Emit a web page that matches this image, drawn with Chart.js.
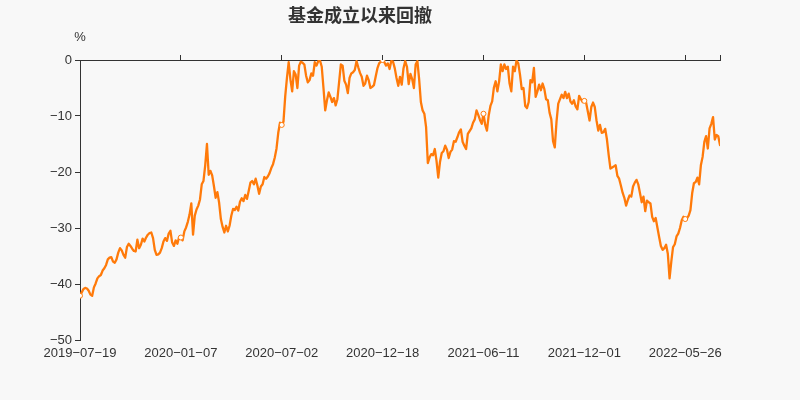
<!DOCTYPE html>
<html><head><meta charset="utf-8">
<script src="https://cdn.jsdelivr.net/npm/chart.js@4"></script>
<style>html,body{margin:0;padding:0;background:#f8f8f8}canvas{display:block}</style>
</head><body><canvas id="c" width="800" height="400"></canvas>
<script>
const chartTitle = '基金成立以来回撤';
const unitLabel = '%';
const tickDates = ['2019-07-19','2020-01-07','2020-07-02','2020-12-18','2021-06-11','2021-12-01','2022-05-26'];
const tickIndex = [0,58,116,174,232,290,348];
const yTicks = [0,-10,-20,-30,-40,-50];
const drawdown = [
-42.1,-41.5,-40.9,-40.7,-40.8,-41.2,-41.9,-42.1,-40.6,-39.9,
-39.0,-38.6,-38.4,-37.6,-37.2,-36.6,-35.6,-35.3,-35.2,-36.0,
-36.2,-35.6,-34.4,-33.6,-34.0,-34.8,-35.3,-33.4,-32.8,-33.2,
-33.7,-34.1,-34.2,-32.1,-33.6,-33.0,-31.9,-32.4,-31.7,-31.2,
-30.9,-30.8,-31.8,-33.9,-34.8,-34.7,-34.4,-33.6,-32.4,-31.8,
-32.3,-31.0,-30.5,-32.6,-33.2,-32.2,-32.8,-31.6,-31.7,-32.2,
-30.6,-29.9,-28.9,-27.6,-25.6,-31.2,-27.8,-26.7,-26.0,-24.9,
-22.2,-21.6,-18.8,-15.0,-20.5,-19.8,-20.6,-22.5,-24.6,-23.6,
-25.5,-28.4,-29.8,-30.8,-29.6,-30.6,-29.6,-27.8,-26.6,-26.8,
-26.2,-26.9,-25.3,-24.7,-25.2,-24.1,-24.8,-23.4,-21.9,-21.6,
-22.2,-21.2,-22.4,-23.9,-22.6,-22.2,-20.9,-21.2,-20.8,-20.2,
-19.3,-18.6,-17.4,-15.8,-13.0,-11.2,-11.6,-11.0,-6.5,-3.2,
-0.4,-3.5,-5.6,-2.0,-2.6,-5.0,-1.0,-0.3,-0.5,-0.8,
-2.8,-4.0,-3.6,-2.4,-2.8,-0.4,-1.0,-0.2,-0.1,-1.2,
-5.0,-9.0,-7.2,-5.8,-6.6,-7.5,-6.8,-8.1,-7.0,-3.9,
-0.8,-1.0,-3.7,-4.4,-5.9,-3.2,-2.4,-2.2,-1.8,-0.2,
-1.3,-2.3,-3.0,-4.6,-4.2,-2.8,-3.6,-5.0,-4.8,-4.5,
-3.0,-1.5,-0.6,-0.3,0.0,-0.4,-1.0,-0.6,-1.6,-0.2,
-0.3,-1.5,-3.2,-4.6,-3.0,-4.4,-1.5,-0.2,-1.2,-4.3,
-2.5,-3.4,-5.0,-0.8,-0.2,-3.4,-7.5,-9.0,-9.6,-12.0,
-18.4,-17.4,-16.8,-17.0,-15.9,-18.0,-21.0,-18.2,-16.6,-16.3,
-15.3,-16.0,-17.5,-16.4,-16.0,-14.5,-14.6,-13.8,-12.9,-12.4,
-14.6,-15.3,-15.9,-13.2,-12.7,-12.2,-11.2,-10.6,-9.0,-9.8,
-10.7,-11.4,-9.6,-11.6,-12.6,-9.9,-8.2,-7.4,-4.9,-3.8,
-5.6,-3.8,-0.8,-2.0,-0.8,-1.6,-1.2,-4.2,-5.6,-1.2,
-2.0,-0.1,-0.6,-2.6,-5.2,-5.0,-8.2,-8.6,-7.5,-3.6,
-4.0,-1.4,-6.6,-5.6,-4.4,-5.4,-4.2,-5.2,-7.0,-7.2,
-9.4,-10.6,-14.5,-15.6,-11.0,-7.8,-7.0,-6.2,-6.8,-5.7,
-6.8,-6.0,-7.4,-7.8,-7.2,-8.3,-8.8,-6.4,-7.0,-7.5,
-7.3,-7.6,-9.2,-10.8,-8.4,-7.6,-8.4,-10.8,-12.6,-11.6,
-13.0,-12.9,-12.3,-14.2,-17.0,-19.4,-19.2,-19.0,-18.8,-20.7,
-21.2,-22.4,-23.7,-24.6,-26.0,-25.0,-24.2,-24.4,-22.6,-21.9,
-21.4,-22.2,-23.8,-25.4,-24.4,-27.0,-25.1,-25.4,-25.6,-28.0,
-28.8,-28.2,-29.9,-31.6,-33.2,-33.9,-33.6,-33.0,-34.6,-39.0,
-36.0,-33.4,-32.9,-31.5,-31.0,-30.0,-28.6,-28.0,-28.4,-28.3,
-27.8,-26.8,-23.8,-22.0,-21.8,-21.0,-22.2,-18.8,-17.3,-14.6,
-13.6,-15.8,-12.2,-11.4,-10.2,-14.2,-13.4,-13.6,-15.2
];

const FONT = '"Liberation Sans", Arial, "Noto Sans CJK SC", sans-serif';
const TITLE_FONT = '"Noto Sans CJK SC", "Liberation Sans", sans-serif';
const lineColor = '#ff7a0a';
const axisColor = '#333333';
const fmt = s => String(s).replace(/-/g, '\u2212');
const lastIndex = drawdown.length - 1;
const points = drawdown.map((v, i) => ({ x: i, y: v }));

const unitPlugin = {
  id: 'unitLabel',
  afterDraw(chart) {
    const { ctx, chartArea } = chart;
    ctx.save();
    ctx.font = '13px ' + FONT;
    ctx.fillStyle = axisColor;
    ctx.textAlign = 'center';
    ctx.textBaseline = 'middle';
    ctx.fillText(unitLabel, chartArea.left, 37);
    ctx.restore();
  }
};

new Chart(document.getElementById('c'), {
  type: 'line',
  data: {
    datasets: [{
      data: points,
      xAxisID: 'x',
      yAxisID: 'y',
      borderColor: lineColor,
      borderWidth: 2.3,
      borderJoinStyle: 'round',
      borderCapStyle: 'round',
      tension: 0,
      fill: false,
      pointRadius: ctx => tickIndex.includes(ctx.dataIndex) ? 2.5 : 0,
      pointBackgroundColor: '#ffffff',
      pointBorderColor: lineColor,
      pointBorderWidth: 1
    }]
  },
  options: {
    responsive: false,
    animation: false,
    devicePixelRatio: 1,
    layout: { padding: { left: 0, right: 80, top: 0, bottom: 0 } },
    plugins: {
      legend: { display: false },
      tooltip: { enabled: false },
      title: {
        display: true,
        text: chartTitle,
        color: axisColor,
        font: { family: TITLE_FONT, size: 18, weight: 'bold', lineHeight: 1.2 },
        padding: { top: 4, bottom: 0 }
      }
    },
    scales: {
      x: {
        type: 'linear',
        position: 'bottom',
        min: 0,
        max: lastIndex,
        afterBuildTicks: s => { s.ticks = tickIndex.map(v => ({ value: v })); },
        ticks: {
          callback: v => { const k = tickIndex.indexOf(v); return k >= 0 ? fmt(tickDates[k]) : ''; },
          color: axisColor,
          font: { family: FONT, size: 13 },
          padding: 6,
          maxRotation: 0,
          autoSkip: false
        },
        grid: { display: false, drawTicks: false },
        border: { display: false },
        afterFit: s => { s.height = 60; }
      },
      xTop: {
        type: 'linear',
        position: 'top',
        min: 0,
        max: lastIndex,
        afterBuildTicks: s => { s.ticks = tickIndex.slice(1).concat([lastIndex]).map(v => ({ value: v })); },
        ticks: { display: false },
        grid: { drawOnChartArea: false, drawTicks: true, tickLength: 5, color: axisColor, lineWidth: 1 },
        border: { display: true, color: axisColor, width: 1 },
        afterFit: s => { s.height = 60 - 25.6; }
      },
      y: {
        type: 'linear',
        min: -50,
        max: 0,
        afterBuildTicks: s => { s.ticks = yTicks.map(v => ({ value: v })); },
        ticks: {
          callback: v => fmt(v),
          color: axisColor,
          font: { family: FONT, size: 13 },
          padding: 3
        },
        grid: { drawOnChartArea: false, drawTicks: true, tickLength: 5, color: axisColor, lineWidth: 1 },
        border: { display: true, color: axisColor, width: 1 },
        afterFit: s => { s.width = 80; }
      }
    }
  },
  plugins: [unitPlugin]
});
</script>
</body></html>
